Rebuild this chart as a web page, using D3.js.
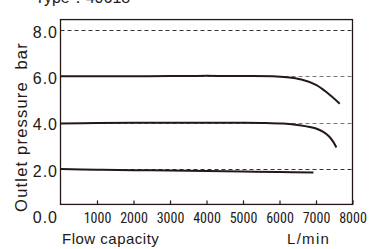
<!DOCTYPE html>
<html>
<head>
<meta charset="utf-8">
<script src="https://cdn.jsdelivr.net/npm/d3@7"></script>
<style>
  body { margin: 0; background: #fff; }
  svg { display: block; font-family: "Liberation Sans", Arial, sans-serif; }
</style>
</head>
<body>
<svg id="chart" width="379" height="249"></svg>
<script>
// data
const flow6 = [0, 1000, 2000, 3000, 4000, 5000, 5800, 6200, 6600, 7000, 7300, 7650];
const pres6 = [6.0, 6.0, 6.0, 6.01, 6.02, 6.01, 6.0, 5.96, 5.86, 5.63, 5.3, 4.82];
const flow4 = [0, 1000, 2000, 3000, 4000, 5000, 5600, 6100, 6540, 7000, 7200, 7360, 7460, 7560];
const pres4 = [3.96, 3.98, 4.0, 4.0, 4.0, 4.0, 3.99, 3.96, 3.89, 3.75, 3.6, 3.4, 3.2, 2.93];
const flow2 = [0, 1000, 2000, 3000, 4000, 5000, 6000, 6930];
const pres2 = [2.0, 1.97, 1.95, 1.93, 1.91, 1.89, 1.87, 1.85];
const gridVals = [8, 6, 4, 2];
const yTicks = [0, 2, 4, 6, 8];
const xTicks = [1000, 2000, 3000, 4000, 5000, 6000, 7000, 8000];

const svg = d3.select("#chart");
const x = d3.scaleLinear().domain([0, 8000]).range([60.5, 352.5]);
const y = d3.scaleLinear().domain([0, 8]).range([215.3, 30]);
const frameTop = y(8.45), frameBottom = y(0.47);

// title (cut off at top, as in the source image)
svg.append("text")
  .attr("x", 35).attr("y", 3)
  .attr("font-size", 16)
  .attr("fill", "#231815")
  .text("Type：40618");

// dashed grid lines
svg.append("g").selectAll("line")
  .data(gridVals)
  .enter().append("line")
  .attr("x1", x(0)).attr("x2", x(8000))
  .attr("y1", d => Math.round(y(d)) + 0.5).attr("y2", d => Math.round(y(d)) + 0.5)
  .attr("stroke", d => (d === 8 || d === 2) ? "#333" : "#777")
  .attr("stroke-width", 1)
  .attr("stroke-dasharray", "4,3");

// frame
svg.append("rect")
  .attr("x", x(0)).attr("y", frameTop)
  .attr("width", x(8000) - x(0)).attr("height", frameBottom - frameTop)
  .attr("fill", "none")
  .attr("stroke", "#231815")
  .attr("stroke-width", 1.3);

// x axis with inward ticks
const xAxis = svg.append("g")
  .attr("transform", `translate(0,${frameBottom})`)
  .call(d3.axisBottom(x).tickValues(xTicks).tickSize(-4).tickPadding(8.5).tickFormat(d3.format("d")));
xAxis.select(".domain").remove();
xAxis.selectAll("line").attr("stroke", "#231815").attr("stroke-width", 1.2);
xAxis.selectAll("text")
  .attr("font-size", 14)
  .attr("font-family", "'Liberation Sans Narrow', 'Roboto Condensed', 'Liberation Sans', sans-serif")
  .attr("fill", "#231815");

// y labels
svg.append("g").selectAll("text")
  .data(yTicks)
  .enter().append("text")
  .attr("x", 58).attr("y", d => y(d) + 2)
  .attr("dy", "0.35em")
  .attr("text-anchor", "end")
  .attr("font-size", 16)
  .attr("letter-spacing", 1)
  .attr("fill", "#231815")
  .text(d => d.toFixed(1));

// axis titles
svg.append("text")
  .attr("transform", "translate(27,127) rotate(-90)")
  .attr("text-anchor", "middle")
  .attr("font-size", 16.5)
  .attr("letter-spacing", 1.2)
  .style("white-space", "pre")
  .attr("fill", "#231815")
  .text("Outlet pressure  bar");

svg.append("text")
  .attr("x", 62).attr("y", 244)
  .attr("font-size", 15)
  .attr("letter-spacing", 0.5)
  .attr("fill", "#231815")
  .text("Flow capacity");

svg.append("text")
  .attr("x", 287).attr("y", 244)
  .attr("font-size", 15)
  .attr("letter-spacing", 1.3)
  .attr("fill", "#231815")
  .text("L/min");

// curves
const line = d3.line()
  .x(d => x(d[0]))
  .y(d => y(d[1]))
  .curve(d3.curveCatmullRom.alpha(0.5));

[[flow6, pres6], [flow4, pres4], [flow2, pres2]].forEach(([f, p]) => {
  svg.append("path")
    .datum(f.map((v, i) => [v, p[i]]))
    .attr("fill", "none")
    .attr("stroke", "#231815")
    .attr("stroke-width", 2)
    .attr("d", line);
});
</script>
</body>
</html>
